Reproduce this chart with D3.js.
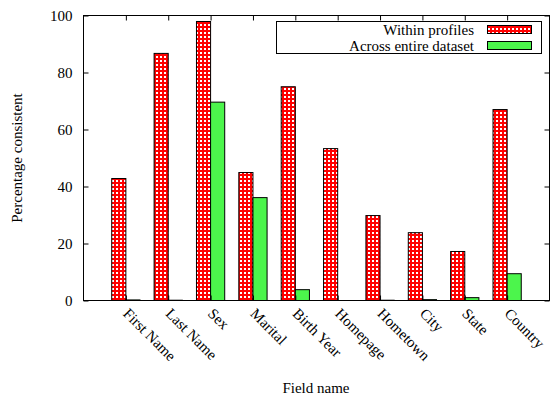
<!DOCTYPE html>
<html><head><meta charset="utf-8">
<script src="https://cdn.jsdelivr.net/npm/d3@7"></script>
<style>body{margin:0;background:#fff}svg{display:block}</style>
</head><body><svg id="c" width="552" height="400"></svg>
<script>
const categories = ["First Name","Last Name","Sex","Marital","Birth Year","Homepage","Hometown","City","State","Country"];
const withinProfiles = [42.8, 86.7, 97.9, 44.9, 75.0, 53.3, 29.8, 23.8, 17.2, 67.0];
const acrossDataset = [0.2, 0.1, 69.6, 36.1, 3.8, 0, 0.1, 0.3, 1.0, 9.4];
const seriesNames = ["Within profiles","Across entire dataset"];
const yTicks = [0,20,40,60,80,100];

const FONT = "Liberation Serif";
const svg = d3.select("#c");
const L=83.5, R=549.5, T=15.5, B=300.5;
const x = d3.scaleLinear().domain([-1,10]).range([L,R]);
const y = d3.scaleLinear().domain([0,100]).range([B,T]);
const bw = (x(1)-x(0))/3;

const defs = svg.append("defs");
const pat = defs.append("pattern").attr("id","chk").attr("patternUnits","userSpaceOnUse").attr("width",4).attr("height",4);
pat.append("rect").attr("width",4).attr("height",4).attr("fill","#ff0000");
pat.append("rect").attr("x",0).attr("y",0).attr("width",2).attr("height",2).attr("fill","#fff");
const green = "#4cf54c";

function styleText(sel){ sel.attr("font-family",null).style("font-family",FONT).style("font-size","15px").attr("fill","#000"); }

// bars
const g = svg.append("g");
g.selectAll(".r").data(withinProfiles).join("rect")
  .attr("x",(d,i)=>x(i)-bw).attr("width",bw)
  .attr("y",d=>y(d)).attr("height",d=>y(0)-y(d))
  .attr("fill","url(#chk)").attr("stroke","#000").attr("stroke-width",1);
g.selectAll(".g").data(acrossDataset).join("rect")
  .attr("x",(d,i)=>x(i)).attr("width",bw)
  .attr("y",d=>y(d)).attr("height",d=>y(0)-y(d))
  .attr("fill",green).attr("stroke",d=>d>0?"#000":"none").attr("stroke-width",1);

// frame
svg.append("rect").attr("x",L).attr("y",T).attr("width",R-L).attr("height",B-T)
  .attr("fill","none").attr("stroke","#000").attr("stroke-width",1);

// y axis
const yAxis = d3.axisLeft(y).tickValues(yTicks).tickSizeInner(-5).tickSizeOuter(0).tickPadding(11);
const ya = svg.append("g").attr("transform",`translate(${L},0)`).call(yAxis);
ya.attr("font-family",null);
ya.select(".domain").remove();
styleText(ya.selectAll("text"));
const yAxisR = d3.axisRight(y).tickValues(yTicks).tickSizeInner(-5).tickSizeOuter(0).tickFormat("");
const yr = svg.append("g").attr("transform",`translate(${R},0)`).call(yAxisR);
yr.select(".domain").remove();

// x axis
const idx = categories.map((c,i)=>i);
const xAxisT = d3.axisTop(x).tickValues(idx).tickSizeInner(-5).tickSizeOuter(0).tickFormat("");
const xt = svg.append("g").attr("transform",`translate(0,${T})`).call(xAxisT);
xt.select(".domain").remove();
const xAxisB = d3.axisBottom(x).tickValues(idx).tickSizeInner(-5).tickSizeOuter(0).tickFormat(i=>categories[i]);
const xb = svg.append("g").attr("transform",`translate(0,${B})`).call(xAxisB);
xb.attr("font-family",null);
xb.select(".domain").remove();
styleText(xb.selectAll("text"));
xb.selectAll("text").attr("text-anchor","start").attr("dy",null).attr("y",0)
  .attr("transform","translate(-4,14) rotate(45)");

svg.selectAll(".tick line").attr("stroke","#000");

// axis titles
styleText(svg.append("text").attr("transform","translate(22,158) rotate(-90)").attr("text-anchor","middle")
  .text("Percentage consistent"));
styleText(svg.append("text").attr("x",316).attr("y",393).attr("text-anchor","middle")
  .text("Field name"));

// legend
const lg = svg.append("g");
lg.append("rect").attr("x",276.5).attr("y",21.5).attr("width",265).attr("height",32)
  .attr("fill","#fff").attr("stroke","#000").attr("stroke-width",1);
const fills = ["url(#chk)", green];
seriesNames.forEach((s,i)=>{
  const yy = 29.5 + i*16;
  styleText(lg.append("text").attr("x",474).attr("y",yy+5).attr("text-anchor","end").text(s));
  lg.append("rect").attr("x",487.5).attr("y",yy-4).attr("width",44).attr("height",8)
    .attr("fill",fills[i]).attr("stroke","#000").attr("stroke-width",1);
});
</script></body></html>
